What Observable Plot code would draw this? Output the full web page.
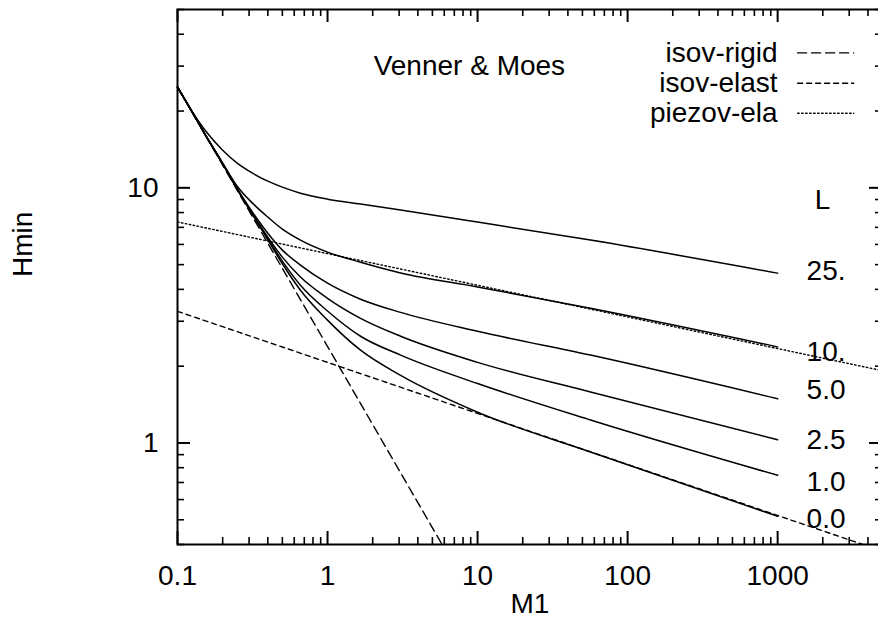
<!DOCTYPE html>
<html><head><meta charset="utf-8">
<script src="https://cdn.jsdelivr.net/npm/d3@7"></script>
<script src="https://cdn.jsdelivr.net/npm/@observablehq/plot@0.6"></script>
<style>
html,body{margin:0;padding:0;background:#fff;overflow:hidden}
</style></head><body><div id="chart"></div>
<script>
// ---- data ----
const M1 = [0.1, 0.126, 0.158, 0.2, 0.25, 0.316, 0.4, 0.5, 0.66, 1, 1.66, 3.07, 10, 56.6, 1000];
const H_L25 = [24.83, 19.81, 16.39, 14.05, 12.50, 11.42, 10.62, 10.06, 9.53, 9.03, 8.64, 8.18, 7.34, 6.24, 4.63];
const H_L10 = [24.83, 19.72, 15.66, 12.50, 10.15, 8.71, 7.68, 6.89, 6.24, 5.60, 5.11, 4.64, 4.09, 3.37, 2.38];
const H_L5  = [24.83, 19.72, 15.66, 12.44, 9.93, 8.03, 6.64, 5.70, 4.98, 4.23, 3.66, 3.25, 2.74, 2.21, 1.49];
const H_L2p5= [24.83, 19.72, 15.66, 12.44, 9.88, 7.92, 6.41, 5.35, 4.47, 3.69, 3.08, 2.62, 2.07, 1.585, 1.03];
const H_L1  = [24.83, 19.72, 15.66, 12.44, 9.88, 7.89, 6.32, 5.16, 4.15, 3.29, 2.62, 2.21, 1.71, 1.23, 0.747];
const H_L0  = [24.83, 19.72, 15.66, 12.44, 9.88, 7.85, 6.26, 5.04, 3.97, 3.03, 2.31, 1.84, 1.32, 0.922, 0.516];
const curveNames = ["25.", "10.", "5.0", "2.5", "1.0", "0.0"];
const curveH = [H_L25, H_L10, H_L5, H_L2p5, H_L1, H_L0];

// asymptotes (straight lines on log-log axes)
const rigidM = [0.1, 5.8],   rigidH = [24.83, 0.4];
const elastM = [0.1, 3700],  elastH = [3.28, 0.4];
const piezoM = [0.1, 5000],  piezoH = [7.35, 1.92];

// labels
const labelM = 1560;
const labelH = [4.73, 2.275, 1.61, 1.025, 0.703, 0.505];
const headerText = "L", headerM = 1995, headerH = 8.95;
const titleText = "Venner & Moes", titleM = 2.03, titleH = 30.0;
const legendNames = ["isov-rigid", "isov-elast", "piezov-ela"];
const legendH = [33.8, 25.7, 19.6];
const legendTextM = 1000, legendLineM = [1359, 3214];

// axes
const xTickValues = [0.1, 1, 10, 100, 1000];
const xTickLabels = ["0.1", "1", "10", "100", "1000"];
const yTickValues = [1, 10];
const yTickLabels = ["1", "10"];
const xMinor = [0.2,0.3,0.4,0.5,0.6,0.7,0.8,0.9, 2,3,4,5,6,7,8,9, 20,30,40,50,60,70,80,90, 200,300,400,500,600,700,800,900, 2000,3000,4000];
const yMinor = [0.4,0.5,0.6,0.7,0.8,0.9, 2,3,4,5,6,7,8,9, 20,30,40,50];

// ---- build tables ----
const curves = curveNames.flatMap((name, k) => M1.map((m, i) => ({M: m, H: curveH[k][i], L: name})));
const seg = (ms, hs) => ms.map((m, i) => ({M: m, H: hs[i]}));
const rigid = seg(rigidM, rigidH), elast = seg(elastM, elastH), piezo = seg(piezoM, piezoH);
const lbls = curveNames.map((n, i) => ({M: labelM, H: labelH[i], t: n}));
const legendLines = legendNames.map((n, i) => legendLineM.map(m => ({M: m, H: legendH[i]})));

const W = 878, HGT = 624, mL = 177, mR = -4, mT = 9, mB = 80;
const fw = W - mL - mR, fh = HGT - mT - mB;
const major = 13, minor = 7;
const dashes = ["9,5", "5,4", "1.5,2.5"];

const plot = Plot.plot({
  width: W, height: HGT,
  marginLeft: mL, marginRight: mR, marginTop: mT, marginBottom: mB,
  style: {fontFamily: "'Liberation Sans', Arial, Helvetica, sans-serif", fontSize: "28px", background: "white", color: "black", overflow: "hidden"},
  x: {type: "log", domain: [0.1, 5000]},
  y: {type: "log", domain: [0.4, 50]},
  marks: [
    Plot.axisX({ticks: xTickValues, tickFormat: d => xTickLabels[xTickValues.indexOf(d)], tickSize: 0, tickPadding: 21, label: null, fill: "black"}),
    Plot.axisY({ticks: yTickValues, tickFormat: d => yTickLabels[yTickValues.indexOf(d)], tickSize: 0, tickPadding: 19, label: null, fill: "black"}),
    // inward ticks on four sides
    Plot.tickX(xTickValues, {x: d => d, insetTop: fh - major, stroke: "black", strokeWidth: 2}),
    Plot.tickX(xMinor, {x: d => d, insetTop: fh - minor, stroke: "black", strokeWidth: 1.6}),
    Plot.tickX(xTickValues, {x: d => d, insetBottom: fh - major, stroke: "black", strokeWidth: 2}),
    Plot.tickX(xMinor, {x: d => d, insetBottom: fh - minor, stroke: "black", strokeWidth: 1.6}),
    Plot.tickY(yTickValues, {y: d => d, insetRight: fw - major, stroke: "black", strokeWidth: 2}),
    Plot.tickY(yMinor, {y: d => d, insetRight: fw - minor, stroke: "black", strokeWidth: 1.6}),
    Plot.tickY(yTickValues, {y: d => d, insetLeft: fw - major, stroke: "black", strokeWidth: 2}),
    Plot.tickY(yMinor, {y: d => d, insetLeft: fw - minor, stroke: "black", strokeWidth: 1.6}),
    // asymptotes
    Plot.line(rigid, {x: "M", y: "H", stroke: "black", strokeWidth: 1.4, strokeDasharray: dashes[0], clip: true}),
    Plot.line(elast, {x: "M", y: "H", stroke: "black", strokeWidth: 1.4, strokeDasharray: dashes[1], clip: true}),
    Plot.line(piezo, {x: "M", y: "H", stroke: "black", strokeWidth: 1.4, strokeDasharray: dashes[2], clip: true}),
    // curves
    Plot.line(curves, {x: "M", y: "H", z: "L", stroke: "black", strokeWidth: 1.5, curve: "monotone-x"}),
    // curve labels
    Plot.text(lbls, {x: "M", y: "H", text: "t", textAnchor: "start", fill: "black"}),
    Plot.text([headerText], {x: () => headerM, y: () => headerH, text: d => d, textAnchor: "middle", fill: "black"}),
    Plot.text([titleText], {x: () => titleM, y: () => titleH, text: d => d, textAnchor: "start", fill: "black"}),
    // legend
    Plot.text(legendNames, {x: () => legendTextM, y: (d, i) => legendH[i], text: d => d, textAnchor: "end", fill: "black"}),
    Plot.line(legendLines[0], {x: "M", y: "H", stroke: "black", strokeWidth: 1.4, strokeDasharray: dashes[0]}),
    Plot.line(legendLines[1], {x: "M", y: "H", stroke: "black", strokeWidth: 1.4, strokeDasharray: dashes[1]}),
    Plot.line(legendLines[2], {x: "M", y: "H", stroke: "black", strokeWidth: 1.4, strokeDasharray: dashes[2]}),
    // axis titles
    Plot.text(["M1"], {frameAnchor: "bottom", dy: 68, text: d => d, fill: "black"}),
    Plot.text(["Hmin"], {frameAnchor: "left", dx: -154, rotate: -90, text: d => d, fill: "black"}),
    Plot.frame({stroke: "black", strokeWidth: 2})
  ]
});
document.getElementById("chart").appendChild(plot);
</script></body></html>
